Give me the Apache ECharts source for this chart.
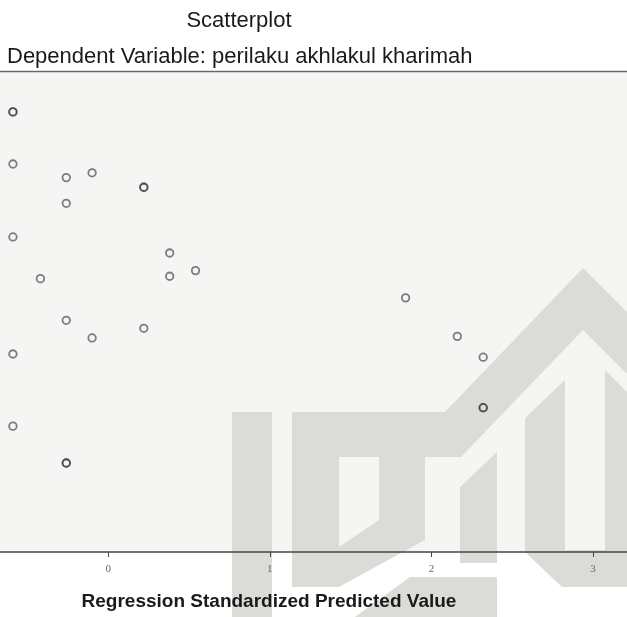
<!DOCTYPE html>
<html>
<head>
<meta charset="utf-8">
<script src="https://cdn.jsdelivr.net/npm/echarts@6/dist/echarts.min.js"></script>
<style>
html,body{margin:0;padding:0;background:#fff;}
#chart{width:627px;height:617px;}
</style>
</head>
<body>
<div id="chart"></div>
<script>
// Regression Standardized Predicted Value (x) and residual (y)
const xValues = [-0.59, -0.59, -0.59, -0.26, -0.10, -0.26, 0.22, 0.22, -0.59, -0.42, 0.38, 0.38, 0.54, -0.26, -0.10, 0.22, -0.59, -0.59, -0.26, -0.26, 1.84, 2.16, 2.32, 2.32, 2.32];
const yValues = [2.49, 2.49, 1.84, 1.67, 1.73, 1.35, 1.55, 1.55, 0.93, 0.41, 0.73, 0.44, 0.51, -0.11, -0.33, -0.21, -0.53, -1.43, -1.89, -1.89, 0.17, -0.31, -0.57, -1.20, -1.20];
const xTicks = [0, 1, 2, 3];
const titleText = 'Scatterplot';
const subtitleText = 'Dependent Variable: perilaku akhlakul kharimah';
const xAxisTitle = 'Regression Standardized Predicted Value';

const points = xValues.map((x, i) => [x, yValues[i]]);

const wm = '#dbdcd7';
const poly = (pts) => ({ type: 'polygon', z: 1, silent: true, shape: { points: pts }, style: { fill: wm } });

const chart = echarts.init(document.getElementById('chart'));
chart.setOption({
  animation: false,
  backgroundColor: '#ffffff',
  title: [
    { text: titleText, left: 234, top: 5, textAlign: 'center',
      textStyle: { fontFamily: 'Liberation Sans', fontSize: 22, fontWeight: 'normal', color: '#1a1a1a' } },
    { text: subtitleText, left: 2, top: 41,
      textStyle: { fontFamily: 'Liberation Sans', fontSize: 22, fontWeight: 'normal', color: '#1a1a1a' } },
    { text: xAxisTitle, left: 264, top: 587, textAlign: 'center',
      textStyle: { fontFamily: 'Liberation Sans', fontSize: 19, fontWeight: 'bold', color: '#1a1a1a' } }
  ],
  grid: { left: 0, right: 0, top: 71, bottom: 65, show: true, backgroundColor: '#f5f5f3', borderWidth: 0 },
  graphic: [
    poly([[232,412],[272,412],[272,617],[232,617]]),
    poly([[292,412],[445,412],[583,268],[627,312],[627,374],[583,330],[461,457],[292,457]]),
    poly([[292,457],[339,457],[339,587],[292,587]]),
    poly([[379,457],[425,457],[425,540],[379,565]]),
    poly([[339,547],[379,520],[379,565],[339,587]]),
    poly([[355,617],[410,577],[497,577],[497,617]]),
    poly([[460,487],[497,452],[497,563],[460,563]]),
    poly([[525,418],[565,380],[565,550],[605,550],[605,370],[627,392],[627,587],[562,587],[525,552]])
  ],
  xAxis: [
    { type: 'value', min: -0.67, max: 3.21, z: 4,
      splitLine: { show: false },
      axisLine: { show: true, onZero: false, lineStyle: { color: '#444', width: 1.5 } },
      axisTick: { show: true, customValues: xTicks, length: 5, inside: false, lineStyle: { color: '#444', width: 1 } },
      axisLabel: { show: true, customValues: xTicks, margin: 12, fontFamily: 'Liberation Serif', fontSize: 11, color: '#666' } },
    { type: 'value', min: -0.67, max: 3.21, position: 'top', z: 4,
      splitLine: { show: false },
      axisLine: { show: true, onZero: false, lineStyle: { color: '#6a6a6a', width: 1.3 } },
      axisTick: { show: false }, axisLabel: { show: false } }
  ],
  yAxis: { type: 'value', min: -3, max: 3, show: false, splitLine: { show: false } },
  series: [{
    type: 'scatter',
    z: 5,
    data: points,
    symbol: 'circle',
    symbolSize: 7.5,
    itemStyle: { color: 'rgba(0,0,0,0)', borderColor: 'rgba(50,50,60,0.78)', borderWidth: 1.8 }
  }]
});
</script>
</body>
</html>
